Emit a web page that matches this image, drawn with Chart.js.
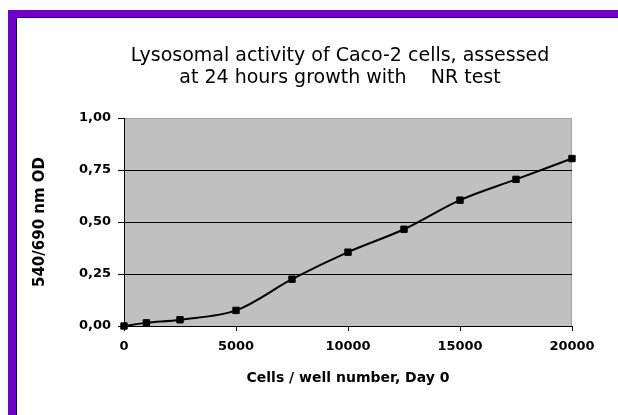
<!DOCTYPE html>
<html>
<head>
<meta charset="utf-8">
<script src="https://cdn.jsdelivr.net/npm/chart.js@4"></script>
<style>
html, body { margin: 0; padding: 0; background: #fff; overflow: hidden; }
#wrap { position: relative; width: 618px; height: 415px; overflow: hidden; }
#frame { position: absolute; left: 8px; top: 10px; width: 700px; height: 500px;
         border-left: 8px solid #6e00c8; border-top: 7px solid #6e00c8; }
#frame div { width: 100%; height: 100%; border-left: 1px solid #000; border-top: 1px solid #000; }
canvas { position: absolute; left: 0; top: 0; }
</style>
</head>
<body>
<div id="wrap">
  <div id="frame"><div></div></div>
  <canvas id="nrChart" width="618" height="415"></canvas>
</div>
<script>
// dữ liệu
const cells = [0, 1000, 2500, 5000, 7500, 10000, 12500, 15000, 17500, 20000];
const od = [0.00, 0.015, 0.03, 0.075, 0.225, 0.355, 0.465, 0.605, 0.705, 0.805];
const titleLines = ['Lysosomal activity of Caco-2 cells, assessed', 'at 24 hours growth with    NR test'];
const xLabel = 'Cells / well number, Day 0';
const yLabel = '540/690 nm OD';

// nền xám của vùng vẽ
const plotBgPlugin = {
    id: 'plotBg',
    beforeDraw(chart, args, options) {
        const {ctx, chartArea: {left, top, right, bottom}} = chart;
        ctx.save();
        ctx.fillStyle = options.color;
        ctx.fillRect(left, top, right - left, bottom - top);
        ctx.strokeStyle = options.edge;
        ctx.lineWidth = 1;
        ctx.strokeRect(left + 0.5, top + 0.5, right - left - 1, bottom - top);
        ctx.restore();
    }
};

// tiêu đề hai dòng, lệch trái một chút như bản gốc
const twoLineTitlePlugin = {
    id: 'twoLineTitle',
    afterDraw(chart, args, options) {
        const {ctx, chartArea: {left, top, right}} = chart;
        const cx = (left + right) / 2 + options.shift;
        ctx.save();
        ctx.font = options.font;
        ctx.fillStyle = options.color;
        ctx.textAlign = 'center';
        ctx.textBaseline = 'alphabetic';
        options.lines.forEach((line, i) => {
            ctx.fillText(line, cx, top - options.gap + i * options.lineHeight);
        });
        ctx.restore();
    }
};

const tickFont = { family: 'DejaVu Sans', size: 13, weight: 'bold' };
const axisTitleFont = { family: 'DejaVu Sans', size: 14, weight: 'bold' };

new Chart(document.getElementById('nrChart').getContext('2d'), {
    type: 'scatter',
    data: {
        datasets: [{
            data: cells.map((x, i) => ({ x: x, y: od[i] })),
            showLine: true,
            borderColor: '#000',
            borderWidth: 2,
            tension: 0.33,
            pointStyle: 'rect',
            pointRadius: 4.5,
            pointBackgroundColor: '#000',
            pointBorderColor: '#000',
            pointBorderWidth: 1,
            clip: false
        }]
    },
    options: {
        responsive: false,
        animation: false,
        layout: { padding: { top: 118, right: 46, bottom: 0, left: 0 } },
        scales: {
            x: {
                type: 'linear',
                min: 0,
                max: 20000,
                ticks: { stepSize: 5000, color: '#000', font: tickFont, padding: 8, maxRotation: 0,
                         callback: v => String(v) },
                grid: { drawOnChartArea: false, drawTicks: true, tickLength: 5, color: '#000' },
                border: { color: '#000', width: 1 },
                title: { display: true, text: xLabel, color: '#000', font: axisTitleFont, padding: { top: 0, bottom: 28 } },
                afterFit(scale) { scale.height = 89; }
            },
            y: {
                min: 0,
                max: 1,
                ticks: {
                    stepSize: 0.25,
                    color: '#000',
                    font: tickFont,
                    padding: 7,
                    callback: v => v.toFixed(2).replace('.', ',')
                },
                grid: {
                    color: c => (c.tick && c.tick.value === 1) ? 'rgba(0,0,0,0)' : '#000',
                    tickColor: '#000',
                    tickLength: 6
                },
                border: { color: '#000', width: 1 },
                title: { display: true, text: yLabel, color: '#000', font: { family: 'DejaVu Sans', size: 15, weight: 'bold' },
                         padding: { top: 31, bottom: 0 } },
                afterFit(scale) { scale.width = 124; }
            }
        },
        plugins: {
            legend: { display: false },
            tooltip: { enabled: false },
            plotBg: { color: '#c0c0c0', edge: '#a0a0a0' },
            twoLineTitle: {
                lines: titleLines,
                font: '19px "DejaVu Sans"',
                color: '#000',
                shift: -8,
                gap: 57,
                lineHeight: 22
            }
        }
    },
    plugins: [plotBgPlugin, twoLineTitlePlugin]
});
</script>
</body>
</html>
